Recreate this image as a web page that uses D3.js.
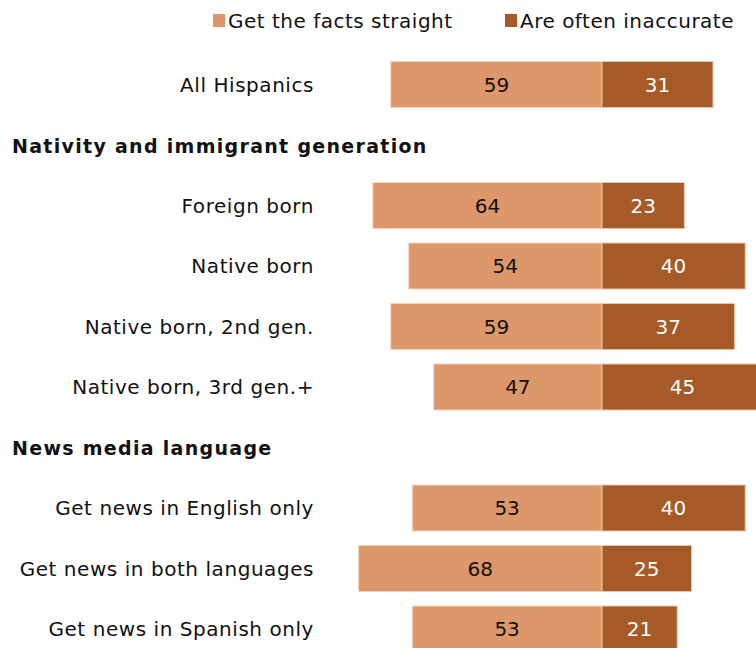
<!DOCTYPE html>
<html>
<head>
<meta charset="utf-8">
<script src="https://cdn.jsdelivr.net/npm/d3@7"></script>
<style>
  html, body { margin: 0; padding: 0; background: #fff; }
  svg { display: block; }
  text { font-family: "DejaVu Sans", Verdana, sans-serif; }
</style>
</head>
<body>
<svg id="chart" width="756" height="648"></svg>
<script>
// Share of Hispanics who say news media ... (percent)
const rowKeys = ["all", "h1", "fb", "nb", "nb2", "nb3", "h2", "en", "both", "es"];
const rowLabels = ["All Hispanics", "Nativity and immigrant generation", "Foreign born", "Native born",
  "Native born, 2nd gen.", "Native born, 3rd gen.+", "News media language",
  "Get news in English only", "Get news in both languages", "Get news in Spanish only"];
const rowIsHeader = [false, true, false, false, false, false, true, false, false, false];
const factsStraight = [59, null, 64, 54, 59, 47, null, 53, 68, 53];
const oftenInaccurate = [31, null, 23, 40, 37, 45, null, 40, 25, 21];
const seriesNames = ["Get the facts straight", "Are often inaccurate"];
const seriesColors = ["#DE976A", "#A65A27"];

const svg = d3.select("#chart");

const center = 602;
const x = d3.scaleLinear().domain([-70, 70]).range([center - 70 * 3.58, center + 70 * 3.58]);

const y = d3.scaleBand()
  .domain(rowKeys)
  .range([54.25, 54.25 + 60.5 * rowKeys.length])
  .paddingInner(0.24)
  .paddingOuter(0.12);

const rows = rowKeys.map((k, i) => ({
  key: k, label: rowLabels[i], header: rowIsHeader[i],
  a: factsStraight[i], b: oftenInaccurate[i]
}));
const dataRows = rows.filter(r => !r.header);
const mid = d => y(d.key) + y.bandwidth() / 2;

// Section headers
svg.append("g").selectAll("text")
  .data(rows.filter(r => r.header))
  .join("text")
  .attr("x", 12)
  .attr("y", d => mid(d) + 1)
  .attr("dy", "0.35em")
  .attr("font-size", 19)
  .attr("font-weight", "bold")
  .attr("letter-spacing", 1.3)
  .attr("fill", "#111")
  .text(d => d.label);

// Row labels
svg.append("g").selectAll("text")
  .data(dataRows)
  .join("text")
  .attr("x", 314)
  .attr("y", d => mid(d))
  .attr("dy", "0.35em")
  .attr("text-anchor", "end")
  .attr("font-size", 20)
  .attr("letter-spacing", 0.55)
  .attr("fill", "#111")
  .text(d => d.label);

// Bars: left segment (facts straight), right segment (often inaccurate)
const bars = svg.append("g");
bars.selectAll("rect.a")
  .data(dataRows)
  .join("rect")
  .attr("class", "a")
  .attr("x", d => x(-d.a))
  .attr("y", d => y(d.key))
  .attr("width", d => x(0) - x(-d.a))
  .attr("height", y.bandwidth())
  .attr("fill", seriesColors[0])
  .attr("stroke", "#F3D3BE")
  .attr("stroke-width", 1);

bars.selectAll("rect.b")
  .data(dataRows)
  .join("rect")
  .attr("class", "b")
  .attr("x", d => x(0))
  .attr("y", d => y(d.key))
  .attr("width", d => x(d.b) - x(0))
  .attr("height", y.bandwidth())
  .attr("fill", seriesColors[1])
  .attr("stroke", "#E8C4A8")
  .attr("stroke-width", 1);

// Value labels
const vals = svg.append("g").attr("font-size", 20).attr("text-anchor", "middle");
vals.selectAll("text.a")
  .data(dataRows)
  .join("text")
  .attr("class", "a")
  .attr("x", d => (x(-d.a) + x(0)) / 2)
  .attr("y", d => mid(d))
  .attr("dy", "0.35em")
  .attr("fill", "#111")
  .text(d => d.a);
vals.selectAll("text.b")
  .data(dataRows)
  .join("text")
  .attr("class", "b")
  .attr("x", d => (x(0) + x(d.b)) / 2)
  .attr("y", d => mid(d))
  .attr("dy", "0.35em")
  .attr("fill", "#fff")
  .text(d => d.b);

// Legend
const legendX = [213, 505];
const legend = svg.append("g").selectAll("g")
  .data(seriesNames)
  .join("g")
  .attr("transform", (d, i) => `translate(${legendX[i]},20.5)`);
legend.append("rect")
  .attr("x", 0).attr("y", -6.5)
  .attr("width", 12).attr("height", 13)
  .attr("fill", (d, i) => seriesColors[i]);
legend.append("text")
  .attr("x", 15)
  .attr("dy", "0.35em")
  .attr("font-size", 20)
  .attr("letter-spacing", 0.5)
  .attr("fill", "#111")
  .text(d => d);
</script>
</body>
</html>
